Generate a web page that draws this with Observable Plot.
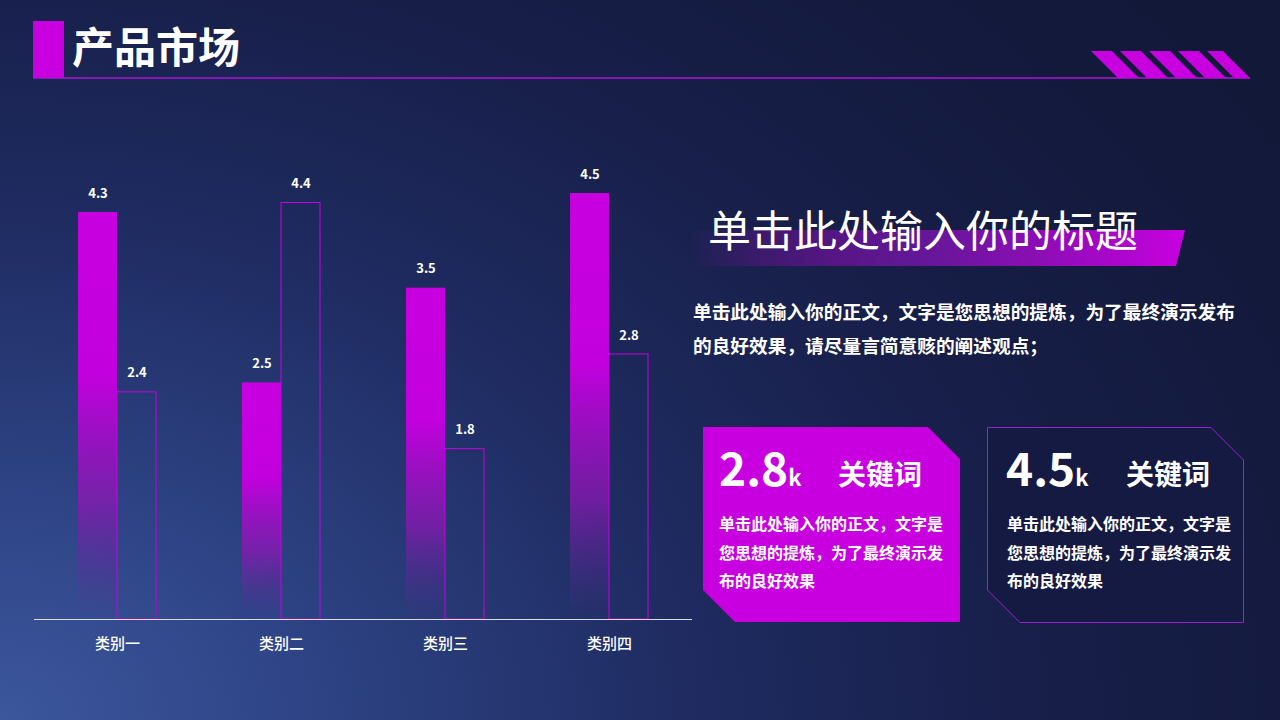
<!DOCTYPE html>
<html>
<head>
<meta charset="utf-8">
<script src="https://cdn.jsdelivr.net/npm/d3@7"></script>
<script src="https://cdn.jsdelivr.net/npm/@observablehq/plot@0.6"></script>
<style>
  html, body { margin: 0; padding: 0; }
  body { width: 1280px; height: 720px; overflow: hidden; font-family: "Noto Sans CJK SC", "Noto Sans", sans-serif; }
  #page { position: relative; width: 1280px; height: 720px; overflow: hidden;
    background: radial-gradient(ellipse 1500px 1100px at 0% 100%, #3c579d 0%, #2d4283 22%, #1f2c62 45%, #171e48 70%, #121838 100%); }
  .abs { position: absolute; white-space: nowrap; color: #fff; }
  #deco { position: absolute; left: 0; top: 0; }
  #chart { position: absolute; left: 33px; top: 120px; }
</style>
</head>
<body>
<div id="page">
  <svg id="deco" width="1280" height="720">
    <defs>
      <linearGradient id="ribbon" x1="0" y1="0" x2="1" y2="0">
        <stop offset="0" stop-color="#c800e0" stop-opacity="0"/>
        <stop offset="0.45" stop-color="#7a16b0" stop-opacity="0.75"/>
        <stop offset="1" stop-color="#c800e0" stop-opacity="1"/>
      </linearGradient>
    </defs>
    <rect x="33" y="21" width="31" height="57" fill="#c800e0"/>
    <line x1="33" y1="78" x2="1250" y2="78" stroke="#a818d8" stroke-width="1.5"/>
    <g fill="#c800e0">
      <polygon points="1091,51 1112,51 1139,78 1118,78"/>
      <polygon points="1120,51 1141,51 1168,78 1147,78"/>
      <polygon points="1149,51 1170,51 1197,78 1176,78"/>
      <polygon points="1178,51 1199,51 1226,78 1205,78"/>
      <polygon points="1207,51 1223,51 1250,78 1234,78"/>
    </g>
    <polygon points="690,230 1185,230 1176,266 690,266" fill="url(#ribbon)"/>
    <polygon points="703,427 928,427 960,459 960,622 735,622 703,590" fill="#c800e0"/>
    <polygon points="987.5,427.5 1211,427.5 1243.5,460 1243.5,622.5 1020,622.5 987.5,590" fill="#151a42" stroke="#9a22cc" stroke-width="1"/>
  </svg>

  <div class="abs" style="left:72px; top:20px; font-size:42px; line-height:50px; font-weight:700;">产品市场</div>

  <div id="chart"></div>

  <div class="abs" style="left:708px; top:203px; font-size:43px; line-height:50px; font-weight:400;">单击此处输入你的标题</div>
  <div class="abs" style="left:693px; top:294px; font-size:18.7px; line-height:34px; font-weight:700; white-space:normal; width:560px;">单击此处输入你的正文，文字是您思想的提炼，为了最终演示发布的良好效果，请尽量言简意赅的阐述观点；</div>

  <div class="abs" style="left:719px; top:441px; font-size:46px; line-height:50px; font-weight:700;">2.8<span style="font-size:22px;">k</span></div>
  <div class="abs" style="left:838px; top:455px; font-size:28px; line-height:36px; font-weight:700;">关键词</div>
  <div class="abs" style="left:719px; top:509px; font-size:16px; line-height:28.5px; font-weight:700; white-space:normal; width:230px;">单击此处输入你的正文，文字是您思想的提炼，为了最终演示发布的良好效果</div>

  <div class="abs" style="left:1006px; top:441px; font-size:46px; line-height:50px; font-weight:700;">4.5<span style="font-size:22px;">k</span></div>
  <div class="abs" style="left:1126px; top:455px; font-size:28px; line-height:36px; font-weight:700;">关键词</div>
  <div class="abs" style="left:1007px; top:509px; font-size:16px; line-height:28.5px; font-weight:700; white-space:normal; width:230px;">单击此处输入你的正文，文字是您思想的提炼，为了最终演示发布的良好效果</div>
</div>
<script>
const categories = ["类别一", "类别二", "类别三", "类别四"];
const series1 = [4.3, 2.5, 3.5, 4.5];
const series2 = [2.4, 4.4, 1.8, 2.8];

const data1 = categories.map((c, i) => ({category: c, value: series1[i]}));
const data2 = categories.map((c, i) => ({category: c, value: series2[i]}));

const chart = Plot.plot({
  width: 659,
  height: 550,
  marginLeft: 1,
  marginRight: 0,
  marginTop: 25.7,
  marginBottom: 51,
  style: {background: "transparent", color: "#ffffff", fontFamily: "Noto Sans CJK SC, sans-serif", fontSize: "15px", fontWeight: 500, overflow: "visible"},
  x: {domain: categories, paddingInner: 0.524, paddingOuter: 0.262, tickSize: 0, tickPadding: 19, label: null},
  y: {domain: [0, 5], axis: null},
  marks: [
    Plot.barY(data1, {x: "category", y: "value", fill: "url(#barGrad)", insetRight: 39}),
    Plot.barY(data2, {x: "category", y: "value", fill: "none", stroke: "#c800e0", strokeWidth: 1, insetLeft: 39}),
    Plot.ruleY([0], {stroke: "#dcdcec", strokeWidth: 1}),
    Plot.text(data1, {x: "category", y: "value", text: d => d.value.toFixed(1), dx: -19.5, dy: -19, fill: "#ffffff", fontSize: 13, fontWeight: "bold"}),
    Plot.text(data2, {x: "category", y: "value", text: d => d.value.toFixed(1), dx: 19.5, dy: -19, fill: "#ffffff", fontSize: 13, fontWeight: "bold"})
  ]
});

const defs = d3.select(chart).insert("defs", ":first-child");
const g = defs.append("linearGradient").attr("id", "barGrad").attr("x1", 0).attr("y1", 0).attr("x2", 0).attr("y2", 1);
[[0, "#c800e0", 1], [0.4, "#c200de", 1], [0.72, "#8a18b4", 0.75], [1, "#5a2a9a", 0]].forEach(([o, c, op]) =>
  g.append("stop").attr("offset", o).attr("stop-color", c).attr("stop-opacity", op));

document.getElementById("chart").appendChild(chart);
</script>
</body>
</html>
